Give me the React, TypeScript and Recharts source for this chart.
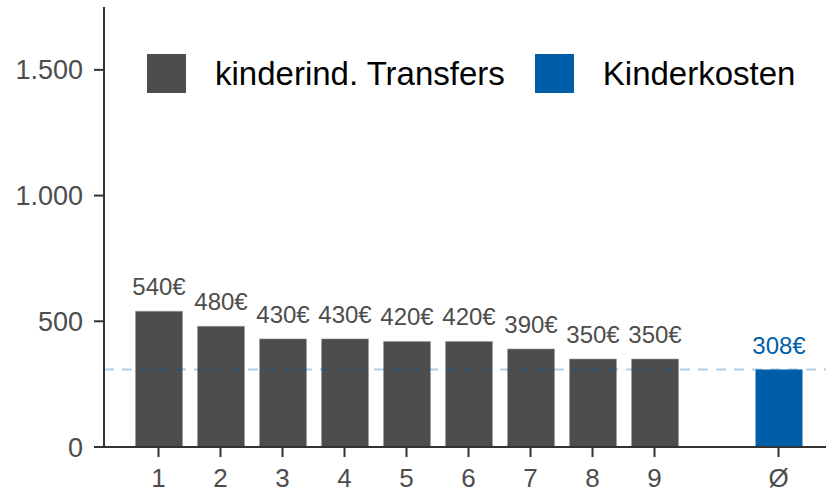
import { BarChart, Bar, XAxis, YAxis, Legend, LabelList, ReferenceLine } from "recharts";

// Einkommensgruppen 1-9, Lücke, dann Durchschnitt (Ø)
const positions = [1, 2, 3, 4, 5, 6, 7, 8, 9, 11];
const transfers = [540, 480, 430, 430, 420, 420, 390, 350, 350, null];
const kosten = [null, null, null, null, null, null, null, null, null, 308];
const xTickLabels = ["1", "2", "3", "4", "5", "6", "7", "8", "9", "Ø"];
const yTicks = [0, 500, 1000, 1500];
const avgKosten = 308;

const GREY = "#4d4d4d";
const BLUE = "#005ea8";
const FONT = "'Liberation Sans', Arial, sans-serif";

const data = positions.map((x, i) => ({
  x,
  transfers: transfers[i],
  kosten: kosten[i],
}));

const legendItems = [
  { label: "kinderind. Transfers", color: GREY },
  { label: "Kinderkosten", color: BLUE },
];

function fmtThousands(v: number) {
  return String(v).replace(/\B(?=(\d{3})+(?!\d))/g, ".");
}

function fmtEuro(v: any) {
  return v == null ? "" : `${v}€`;
}

function xLabel(v: number) {
  const i = positions.indexOf(v);
  return i >= 0 ? xTickLabels[i] : "";
}

function LegendBox() {
  return (
    <div style={{ display: "flex", alignItems: "center", paddingLeft: 147, fontFamily: FONT }}>
      {legendItems.map((item) => (
        <div key={item.label} style={{ display: "flex", alignItems: "center", marginRight: 30 }}>
          <span style={{ width: 39, height: 39, background: item.color, display: "inline-block" }} />
          <span style={{ marginLeft: 29, fontSize: 33, color: "#000", lineHeight: "39px" }}>
            {item.label}
          </span>
        </div>
      ))}
    </div>
  );
}

export default function App() {
  return (
    <div style={{ position: "absolute", left: 0, top: 0, width: 826, height: 493, background: "#fff" }}>
      <BarChart
        width={826}
        height={493}
        data={data}
        margin={{ top: 7, right: 0, left: 0, bottom: 0 }}
      >
        <XAxis
          dataKey="x"
          type="number"
          domain={[0.121, 11.766]}
          ticks={positions}
          tickFormatter={xLabel}
          height={46}
          tickSize={10}
          tickMargin={12}
          allowDataOverflow
          axisLine={{ stroke: "#333", strokeWidth: 2 }}
          tickLine={{ stroke: "#333", strokeWidth: 2 }}
          tick={{ fontSize: 26, fill: GREY, fontFamily: FONT }}
        />
        <YAxis
          domain={[0, 1750]}
          ticks={yTicks}
          tickFormatter={fmtThousands}
          width={104}
          tickSize={10}
          tickMargin={11}
          allowDataOverflow
          axisLine={{ stroke: "#333", strokeWidth: 2 }}
          tickLine={{ stroke: "#333", strokeWidth: 2 }}
          tick={{ fontSize: 27, fill: GREY, fontFamily: FONT }}
        />
        <Legend
          layout="vertical"
          align="center"
          verticalAlign="middle"
          content={<LegendBox />}
          wrapperStyle={{ position: "absolute", left: 0, top: 54, width: 826 }}
        />
        <Bar
          dataKey="transfers"
          name="kinderind. Transfers"
          stackId="a"
          fill={GREY}
          stroke="#9a9a9a"
          strokeWidth={0.6}
          barSize={47}
          isAnimationActive={false}
        >
          <LabelList
            dataKey="transfers"
            position="top"
            offset={16}
            formatter={fmtEuro}
            style={{ fontSize: 24, fill: GREY, fontFamily: FONT }}
          />
        </Bar>
        <Bar
          dataKey="kosten"
          name="Kinderkosten"
          stackId="a"
          fill={BLUE}
          barSize={47}
          isAnimationActive={false}
        >
          <LabelList
            dataKey="kosten"
            position="top"
            offset={16}
            formatter={fmtEuro}
            style={{ fontSize: 24, fill: BLUE, fontFamily: FONT }}
          />
        </Bar>
        <ReferenceLine
          y={avgKosten}
          stroke={BLUE}
          strokeOpacity={0.3}
          strokeWidth={2}
          strokeDasharray="10 8"
          ifOverflow="extendDomain"
        />
      </BarChart>
    </div>
  );
}
